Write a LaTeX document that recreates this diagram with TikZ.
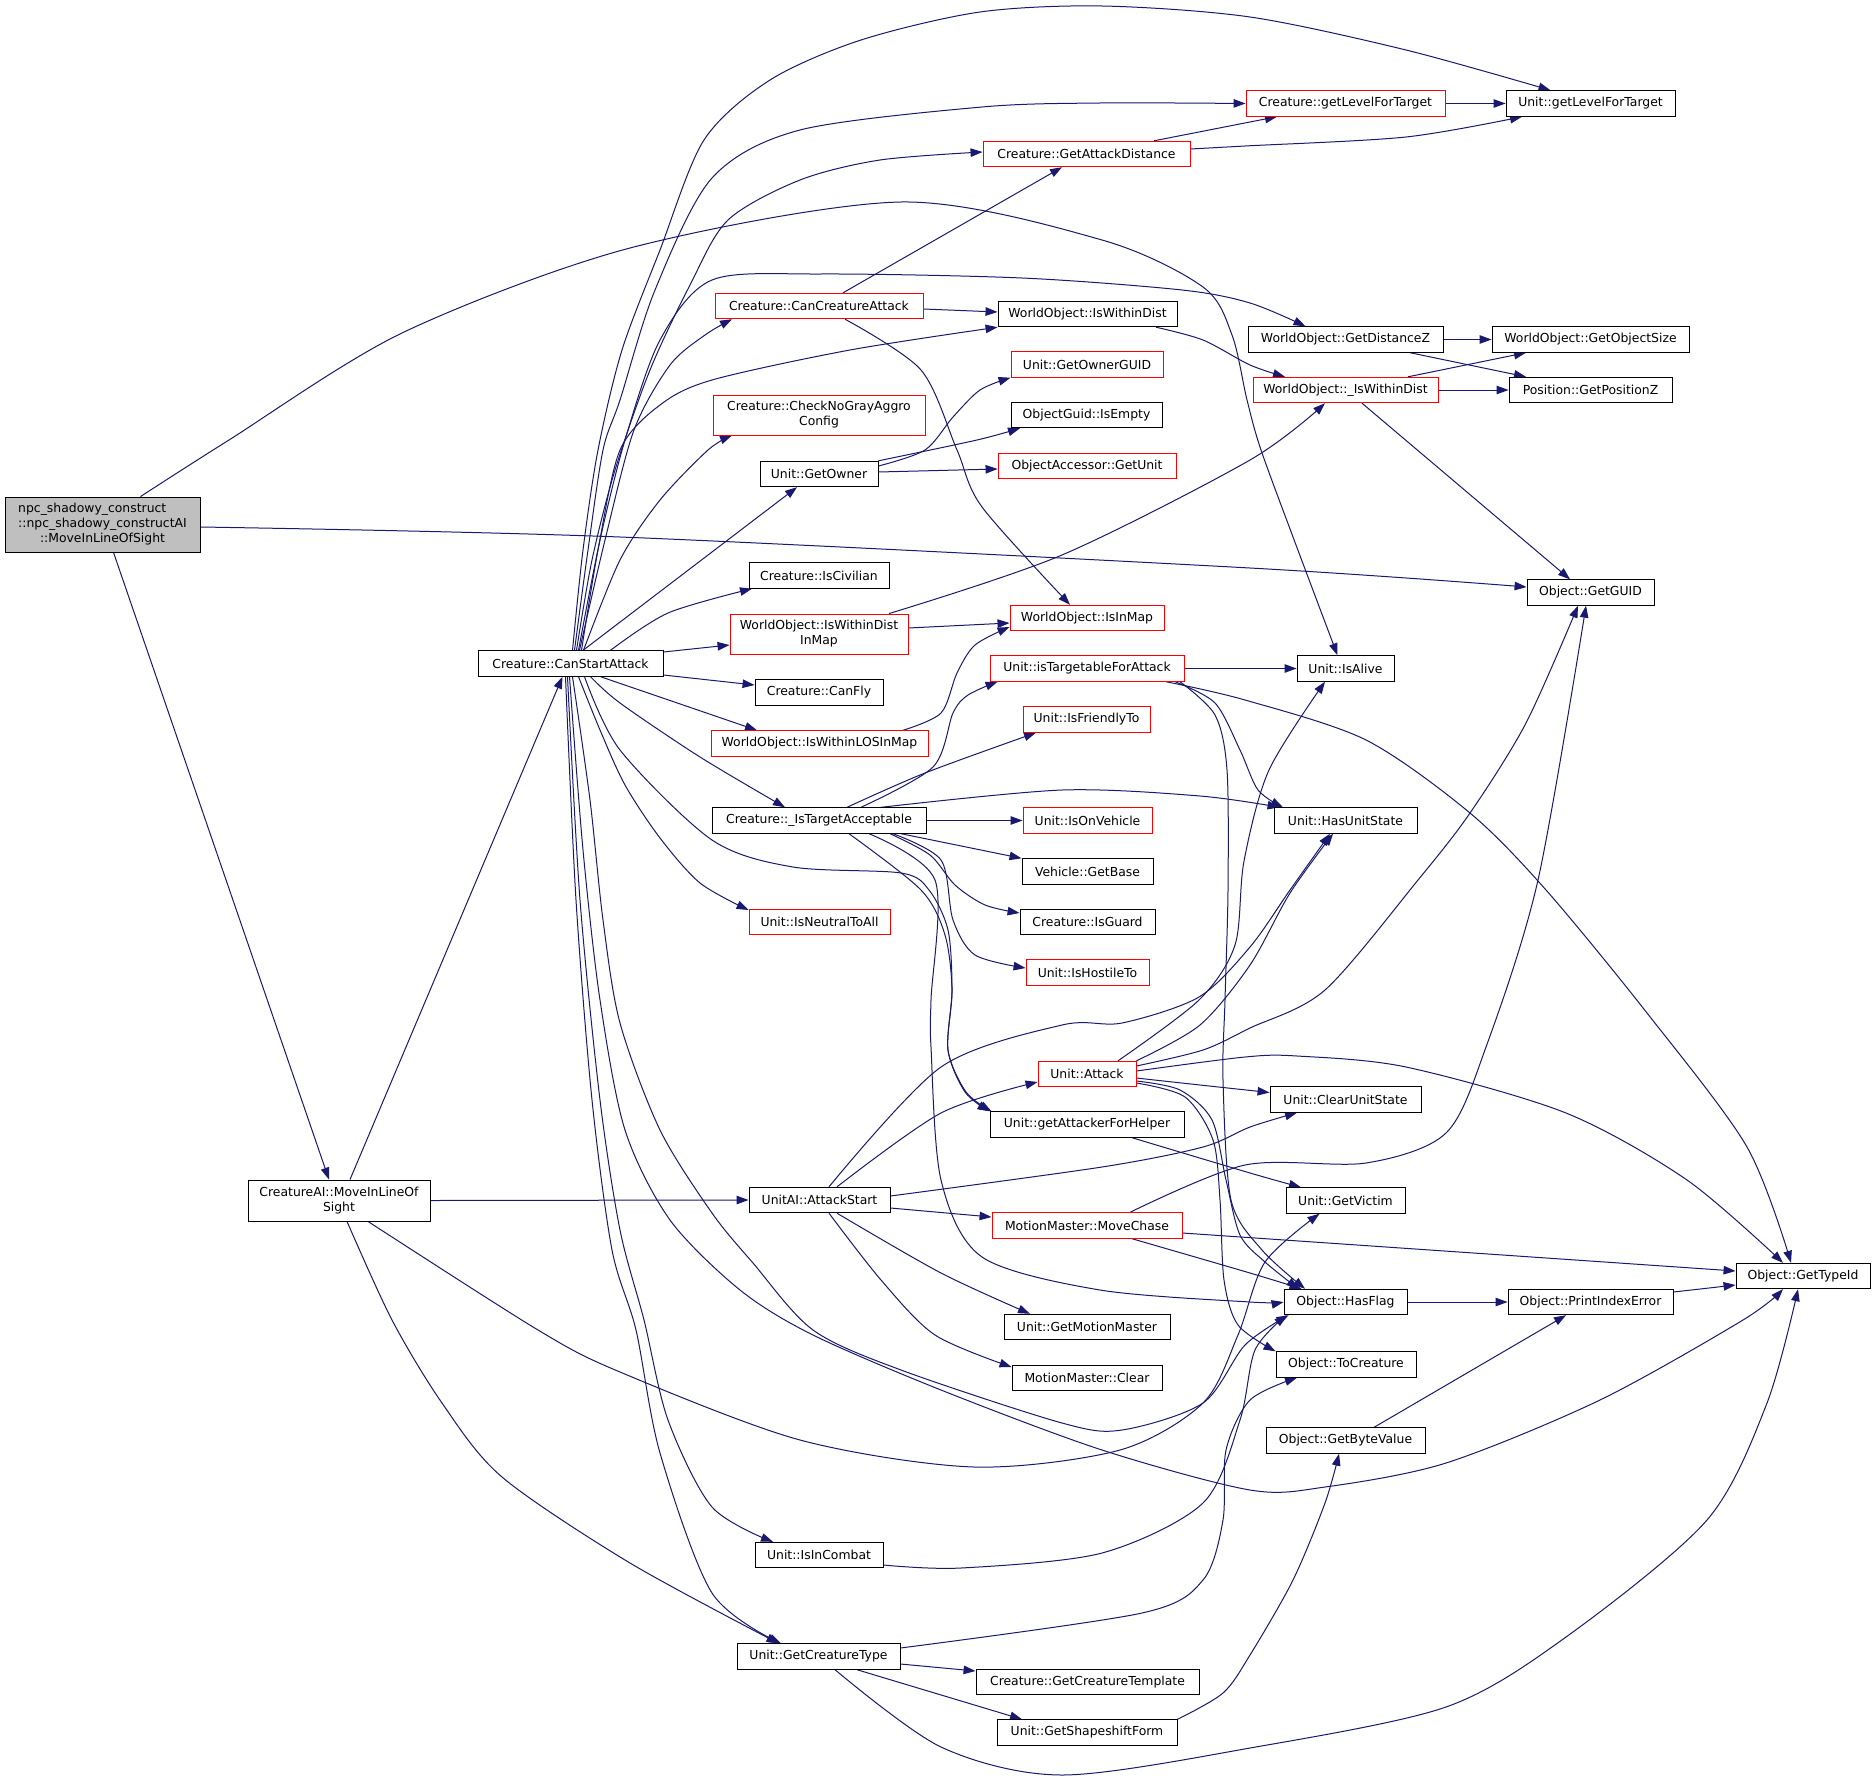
\documentclass[tikz,border=0pt]{standalone}
\usepackage{fontspec}
\setmainfont{DejaVu Sans}
\usetikzlibrary{arrows.meta}
\definecolor{edgecol}{HTML}{191970}
\definecolor{nodegray}{HTML}{BFBFBF}
\pgfdeclarelayer{edgelayer}
\pgfsetlayers{edgelayer,main}
\tikzset{
  nd/.style={draw=black, line width=0.9pt, rectangle, inner sep=0pt, minimum height=25.5pt, fill=white, align=center, font=\fontsize{12.4pt}{15pt}\selectfont},
  rd/.style={nd, draw=red},
  e/.style={draw=edgecol, line width=1pt, -{Triangle[length=12pt,width=8.5pt]}},
}
\begin{document}
\begin{tikzpicture}[x=1pt,y=-1pt]
\useasboundingbox (0,0) rectangle (1876,1782);
% nodes
\node[nd, fill=nodegray, minimum width=195pt, minimum height=55pt] (main) at (102.5,524.5) {\begin{tabular}{@{}l@{}}npc\_shadowy\_construct\\::npc\_shadowy\_constructAI\\\multicolumn{1}{@{}c@{}}{::MoveInLineOfSight}\end{tabular}};
\node[nd, minimum width=182pt, minimum height=41pt] (cai) at (339,1200.5) {CreatureAI::MoveInLineOf\\Sight};
\node[nd, minimum width=185pt] (csa) at (570.5,663.5) {Creature::CanStartAttack};
\node[rd, minimum width=207pt] (gad) at (1086.5,154) {Creature::GetAttackDistance};
\node[rd, minimum width=208pt] (cca) at (819,306) {Creature::CanCreatureAttack};
\node[nd, minimum width=179pt] (wid) at (1087.5,314) {WorldObject::IsWithinDist};
\node[rd, minimum width=152pt] (gog) at (1087,364.5) {Unit::GetOwnerGUID};
\node[rd, minimum width=212pt, minimum height=40pt] (cng) at (819,415) {Creature::CheckNoGrayAggro\\Config};
\node[nd, minimum width=151pt] (oge) at (1086.5,415) {ObjectGuid::IsEmpty};
\node[rd, minimum width=199pt] (cglt) at (1345.5,103.5) {Creature::getLevelForTarget};
\node[nd, minimum width=169pt] (uglt) at (1590.5,103.5) {Unit::getLevelForTarget};
\node[nd, minimum width=195pt] (gdz) at (1345.5,339.5) {WorldObject::GetDistanceZ};
\node[nd, minimum width=197pt] (gos) at (1590.5,339.5) {WorldObject::GetObjectSize};
\node[rd, minimum width=185pt] (iwd) at (1345.5,390) {WorldObject::\_IsWithinDist};
\node[nd, minimum width=163pt] (gpz) at (1590.5,390) {Position::GetPositionZ};
\node[nd, minimum width=118pt] (gown) at (819,474) {Unit::GetOwner};
\node[rd, minimum width=178pt] (gunit) at (1087,466) {ObjectAccessor::GetUnit};
\node[nd, minimum width=140pt] (civ) at (819,575.5) {Creature::IsCivilian};
\node[rd, minimum width=178pt, minimum height=40pt] (wdim) at (819,634) {WorldObject::IsWithinDist\\InMap};
\node[rd, minimum width=154pt] (inmap) at (1087,618) {WorldObject::IsInMap};
\node[rd, minimum width=194pt] (itfa) at (1087,668.5) {Unit::isTargetableForAttack};
\node[nd, minimum width=128pt] (fly) at (819,692.5) {Creature::CanFly};
\node[rd, minimum width=127pt] (friend) at (1086.5,719.5) {Unit::IsFriendlyTo};
\node[rd, minimum width=217pt] (los) at (819.5,743.5) {WorldObject::IsWithinLOSInMap};
\node[nd, minimum width=214pt] (ita) at (819,820.5) {Creature::\_IsTargetAcceptable};
\node[rd, minimum width=129pt] (veh) at (1087.5,820.5) {Unit::IsOnVehicle};
\node[nd, minimum width=131pt] (base) at (1087.5,871.5) {Vehicle::GetBase};
\node[rd, minimum width=141pt] (neut) at (819.5,922) {Unit::IsNeutralToAll};
\node[nd, minimum width=135pt] (guard) at (1087.5,922) {Creature::IsGuard};
\node[rd, minimum width=123pt] (host) at (1087.5,972.5) {Unit::IsHostileTo};
\node[rd, minimum width=98pt] (attack) at (1087,1074) {Unit::Attack};
\node[nd, minimum width=194pt] (gafh) at (1087,1124.5) {Unit::getAttackerForHelper};
\node[nd, minimum width=141pt] (uas) at (819.5,1200) {UnitAI::AttackStart};
\node[rd, minimum width=190pt] (chase) at (1087,1225.5) {MotionMaster::MoveChase};
\node[nd, minimum width=166pt] (gmm) at (1087,1327) {Unit::GetMotionMaster};
\node[nd, minimum width=150pt] (clear) at (1087,1378) {MotionMaster::Clear};
\node[nd, minimum width=128pt] (combat) at (819,1555) {Unit::IsInCombat};
\node[nd, minimum width=163pt] (gct) at (818.5,1656.5) {Unit::GetCreatureType};
\node[nd, minimum width=223pt] (gctpl) at (1087.5,1682) {Creature::GetCreatureTemplate};
\node[nd, minimum width=180pt] (gsf) at (1087,1732.5) {Unit::GetShapeshiftForm};
\node[nd, minimum width=127pt] (guid) at (1590.5,592.5) {Object::GetGUID};
\node[nd, minimum width=97pt] (alive) at (1345.5,668.5) {Unit::IsAlive};
\node[nd, minimum width=143pt] (hus) at (1345.5,820.5) {Unit::HasUnitState};
\node[nd, minimum width=151pt] (cus) at (1345.5,1099.5) {Unit::ClearUnitState};
\node[nd, minimum width=119pt] (victim) at (1345.5,1200.5) {Unit::GetVictim};
\node[nd, minimum width=134pt] (typeid) at (1803,1276) {Object::GetTypeId};
\node[nd, minimum width=123pt] (hasflag) at (1345.5,1302) {Object::HasFlag};
\node[nd, minimum width=165pt] (pie) at (1590.5,1302) {Object::PrintIndexError};
\node[nd, minimum width=140pt] (tocr) at (1346,1364.5) {Object::ToCreature};
\node[nd, minimum width=159pt] (gbv) at (1345.5,1440.5) {Object::GetByteValue};
% edges
\begin{pgfonlayer}{edgelayer}
\fill[white] (0,0) rectangle (1876,1782);
% main
\draw[e] plot[smooth] coordinates {([xshift=38pt]main.north) (229,440) (402,333) (630,248) (901,202) (1102,240) (1203,287) (1232,335) (1247,400) (1261,450) (1296,545) ([xshift=-8pt]alive.north)};
\draw[e] plot[smooth] coordinates {([yshift=-2.5pt]main.east) (620,537) (1250,568) ([yshift=5.5pt]guid.west)};
\draw[e] ([xshift=11pt]main.south) -- ([xshift=-10pt]cai.north);
% cai
\draw[e] ([xshift=11pt]cai.north) -- ([xshift=-8pt]csa.south);
\draw[e] (cai.east) -- (uas.west);
\draw[e] plot[smooth] coordinates {([xshift=29pt]cai.south) (538,1330) (620,1372) (800,1440) (974,1467) (1120,1450) (1203,1403) (1238,1335) (1265,1262) ([xshift=-26pt]victim.south)};
\draw[e] plot[smooth] coordinates {([xshift=8pt]cai.south) (392,1320) (442,1403) (502,1477) (630,1563) ([xshift=-40pt]gct.north)};
% csa upward
\draw[e] plot[smooth] coordinates {([xshift=2pt]csa.north) (583,550) (598,450) (622,350) (660,250) (704,140) (770,80) (861,40) (980,12) (1102,6) (1250,17) (1406,50) ([xshift=-40pt]uglt.north)};
\draw[e] plot[smooth] coordinates {([xshift=4pt]csa.north) (588,550) (603,450) (620,400) (655,290) (712,178) (800,130) (982,107) (1100,103) (cglt.west)};
\draw[e] plot[smooth] coordinates {([xshift=6pt]csa.north) (592,560) (615,470) (650,370) (690,285) (728,220) (800,180) (880,160) ([yshift=2pt]gad.west)};
\draw[e] plot[smooth] coordinates {([xshift=8pt]csa.north) (600,540) (625,440) (660,340) (712,280) (821,274) (1022,278) (1182,290) (1250,303) ([xshift=-40pt]gdz.north)};
\draw[e] plot[smooth] coordinates {([xshift=9pt]csa.north) (605,540) (634,430) (670,365) (705,335) ([xshift=-87pt]cca.south)};
\draw[e] plot[smooth] coordinates {([xshift=11pt]csa.north) (598,550) (620,450) (660,405) (712,380) (850,350) (wid.south west)};
\draw[e] plot[smooth] coordinates {([xshift=13pt]csa.north) (620,560) (660,500) (708,450) ([xshift=-87pt]cng.south)};
\draw[e] ([xshift=12.5pt]csa.north) -- ([xshift=-22pt]gown.south);
\draw[e] plot[smooth] coordinates {([xshift=40pt]csa.north) (668,613) ([xshift=-67pt]civ.south)};
\draw[e] ([yshift=11.5pt]csa.east) -- ([yshift=-11pt]wdim.west);
\draw[e] ([yshift=-11.5pt]csa.east) -- ([yshift=7.5pt]fly.west);
% csa downward
\draw[e] ([xshift=30pt]csa.south) -- ([xshift=-62.5pt]los.north);
\draw[e] plot[smooth] coordinates {([xshift=20pt]csa.south) (620,703) (700,757) ([xshift=-34pt]ita.north)};
\draw[e] plot[smooth] coordinates {([xshift=14pt]csa.south) (620,750) (712,840) (793,867) (901,873) (929,890) (948,930) (952,990) (948,1050) (965,1092) (gafh.north west)};
\draw[e] plot[smooth] coordinates {([xshift=8pt]csa.south) (600,730) (625,785) (660,838) (700,883) ([yshift=12pt]neut.west)};
\draw[e] plot[smooth] coordinates {([xshift=2pt]csa.south) (590,800) (603,920) (620,1023) (660,1130) (712,1213) (753,1263) (813,1330) (901,1370) (1062,1423) (1122,1430) (1203,1403) (1245,1345) ([xshift=5pt]hasflag.south west)};
\draw[e] plot[smooth] coordinates {([xshift=-1pt]csa.south) (583,850) (600,1000) (625,1130) (670,1220) (740,1290) (813,1335) (941,1390) (1102,1450) (1250,1490) (1325,1487) (1446,1463) (1600,1400) (1743,1320) ([xshift=-20pt]typeid.south)};
\draw[e] plot[smooth] coordinates {([xshift=-3pt]csa.south) (580,900) (600,1100) (620,1230) (644,1320) (668,1420) (712,1507) ([xshift=-46pt]combat.north)};
\draw[e] plot[smooth] coordinates {([xshift=-5pt]csa.south) (576,900) (592,1100) (612,1250) (636,1330) (660,1453) (712,1593) ([xshift=-37.5pt]gct.north)};
% cca
\draw[e] ([xshift=24pt]cca.north) -- ([xshift=-24.5pt]gad.south);
\draw[e] ([yshift=-3pt]cca.east) -- ([yshift=2pt]wid.west);
\draw[e] plot[smooth] coordinates {([xshift=26pt]cca.south) (921,370) (957,450) (982,507) ([xshift=-17pt]inmap.north)};
% gad, cglt
\draw[e] ([xshift=67.5pt]gad.north) -- ([xshift=-68.5pt]cglt.south);
\draw[e] plot[smooth] coordinates {([yshift=5pt]gad.east) (1245,146) (1406,137) ([xshift=-68.5pt]uglt.south)};
\draw[e] (cglt.east) -- (uglt.west);
% distance group
\draw[e] plot[smooth] coordinates {([xshift=68.5pt]wid.south) (1203,340) (1250,365) ([xshift=-60.5pt]iwd.north)};
\draw[e] (gdz.east) -- (gos.west);
\draw[e] ([xshift=64.5pt]gdz.south) -- ([xshift=-64.5pt]gpz.north);
\draw[e] ([xshift=62.5pt]iwd.north) -- ([xshift=-64.5pt]gos.south);
\draw[e] (iwd.east) -- (gpz.west);
\draw[e] ([xshift=16.5pt]iwd.south) -- ([xshift=-20.5pt]guid.north);
\draw[e] plot[smooth] coordinates {([xshift=70pt]wdim.north) (1062,555) (1250,460) ([xshift=-20.5pt]iwd.south)};
\draw[e] ([yshift=6pt]wdim.east) -- ([yshift=-5pt]inmap.west);
\draw[e] plot[smooth] coordinates {([xshift=83.5pt]los.north) (941,713) (957,673) (975,645) ([yshift=-9pt]inmap.west)};
% owner
\draw[e] plot[smooth] coordinates {([yshift=8pt]gown.east) (925,450) (953,417) (980,390) (gog.south west)};
\draw[e] plot[smooth] coordinates {(gown.north east) (977,440) ([xshift=-66.5pt]oge.south)};
\draw[e] ([yshift=2pt]gown.east) -- ([yshift=-3pt]gunit.west);
% targetable
\draw[e] (itfa.east) -- (alive.west);
\draw[e] plot[smooth] coordinates {([xshift=79pt]itfa.south) (1245,700) (1366,740) (1470,813) (1546,890) (1647,1013) (1747,1147) ([xshift=-12pt]typeid.north)};
\draw[e] plot[smooth] coordinates {([xshift=88pt]itfa.south) (1215,703) (1240,750) (1258,790) ([xshift=-62.5pt]hus.north)};
\draw[e] plot[smooth] coordinates {([xshift=93pt]itfa.south) (1215,715) (1227,770) (1228,890) (1225,1000) (1223,1080) (1231,1200) (1262,1250) ([xshift=-40.5pt]hasflag.north)};
% target acceptable
\draw[e] plot[smooth] coordinates {([xshift=42pt]ita.north) (933,767) (953,713) (968,695) ([xshift=8pt]itfa.south west)};
\draw[e] plot[smooth] coordinates {([xshift=28pt]ita.north) (925,773) ([xshift=-50.5pt]friend.south)};
\draw[e] plot[smooth] coordinates {([xshift=62pt]ita.north) (1062,790) (1200,796) ([xshift=6pt]hus.north west)};
\draw[e] (ita.east) -- (veh.west);
\draw[e] ([xshift=82pt]ita.south) -- (base.north west);
\draw[e] plot[smooth] coordinates {([xshift=71pt]ita.south) (930,855) (955,885) (985,905) ([yshift=9pt]guard.west)};
\draw[e] plot[smooth] coordinates {([xshift=74pt]ita.south) (941,860) (953,920) (975,955) ([yshift=4.5pt]host.west)};
\draw[e] plot[smooth] coordinates {([xshift=30pt]ita.south) (921,890) (945,935) (952,990) (948,1050) (966,1092) ([xshift=2pt]gafh.north west)};
\draw[e] plot[smooth] coordinates {([xshift=50pt]ita.south) (935,880) (931,1000) (931,1047) (941,1180) (982,1257) (1100,1290) (1250,1302) (hasflag.west)};
% attack start
\draw[e] plot[smooth] coordinates {([xshift=17.5pt]uas.north) (941,1113) ([yshift=-8pt]attack.west)};
\draw[e] plot[smooth] coordinates {([xshift=9.5pt]uas.north) (941,1067) (1062,1025) (1122,1023) (1199,997) (1250,947) (1290,890) ([xshift=-15.5pt]hus.south)};
\draw[e] plot[smooth] coordinates {([yshift=4pt]uas.east) (1102,1167) (1203,1147) (1250,1127) ([xshift=-48.5pt]cus.south)};
\draw[e] ([yshift=-8pt]uas.east) -- ([yshift=8.5pt]chase.west);
\draw[e] plot[smooth] coordinates {([xshift=17.5pt]uas.south) (941,1273) ([xshift=-57pt]gmm.north)};
\draw[e] plot[smooth] coordinates {([xshift=9.5pt]uas.south) (881,1280) (935,1335) ([yshift=11pt]clear.west)};
% attack
\draw[e] plot[smooth] coordinates {([xshift=31pt]attack.north) (1199,1000) (1235,945) (1244,861) (1269,770) ([xshift=-20.5pt]alive.south)};
\draw[e] plot[smooth] coordinates {(attack.north east) (1200,1025) (1250,965) (1290,893) ([xshift=-12.5pt]hus.south)};
\draw[e] plot[smooth] coordinates {([yshift=8pt]attack.east) (1203,1050) (1250,1028) (1325,990) (1418,880) (1470,813) (1526,723) ([xshift=-12.5pt]guid.south)};
\draw[e] plot[smooth] coordinates {([yshift=3pt]attack.east) (1245,1057) (1297,1056) (1406,1067) (1566,1113) (1687,1180) ([xshift=-20pt]typeid.north)};
\draw[e] plot[smooth] coordinates {([yshift=-4pt]attack.east) (1200,1085) ([yshift=7pt]cus.west)};
\draw[e] plot[smooth] coordinates {([yshift=-7pt]attack.east) (1180,1090) (1212,1120) (1226,1180) (1240,1235) (1265,1262) ([xshift=-47pt]hasflag.north)};
\draw[e] plot[smooth] coordinates {([yshift=-9pt]attack.east) (1185,1097) (1213,1140) (1220,1200) (1224,1280) (1238,1325) (tocr.north west)};
\draw[e] plot[smooth] coordinates {([xshift=45pt]gafh.south) (1250,1173) ([xshift=-44.5pt]victim.north)};
% move chase
\draw[e] plot[smooth] coordinates {([xshift=43pt]chase.north) (1245,1165) (1366,1163) (1446,1133) (1486,1047) (1538,880) ([xshift=-4.5pt]guid.south)};
\draw[e] ([yshift=-7.5pt]chase.east) -- ([yshift=5pt]typeid.west);
\draw[e] plot[smooth] coordinates {([xshift=45pt]chase.south) (1250,1273) ([xshift=-44pt]hasflag.north)};
% creature type
\draw[e] ([yshift=-7.5pt]gct.east) -- ([yshift=11pt]gctpl.west);
\draw[e] ([xshift=38.5pt]gct.south) -- ([xshift=-65pt]gsf.north);
\draw[e] plot[smooth] coordinates {([xshift=16.5pt]gct.south) (941,1747) (1062,1775) (1250,1748) (1446,1707) (1566,1637) (1707,1520) (1767,1403) ([xshift=-5pt]typeid.south)};
\draw[e] plot[smooth] coordinates {([yshift=8.5pt]gct.east) (1142,1613) (1203,1580) (1223,1520) (1226,1450) (1250,1400) ([xshift=-49pt]tocr.south)};
\draw[e] plot[smooth] coordinates {([yshift=-10pt]combat.east) (961,1568) (1102,1553) (1203,1503) (1240,1420) (1255,1350) ([xshift=3pt]hasflag.south west)};
\draw[e] plot[smooth] coordinates {(gsf.north east) (1223,1693) (1250,1655) (1293,1580) (1325,1503) ([xshift=-6.5pt]gbv.south)};
\draw[e] ([xshift=28.5pt]gbv.north) -- ([xshift=-24.5pt]pie.south);
\draw[e] (hasflag.east) -- (pie.west);
\draw[e] ([yshift=10pt]pie.east) -- ([yshift=-9pt]typeid.west);
\end{pgfonlayer}
\end{tikzpicture}
\end{document}
